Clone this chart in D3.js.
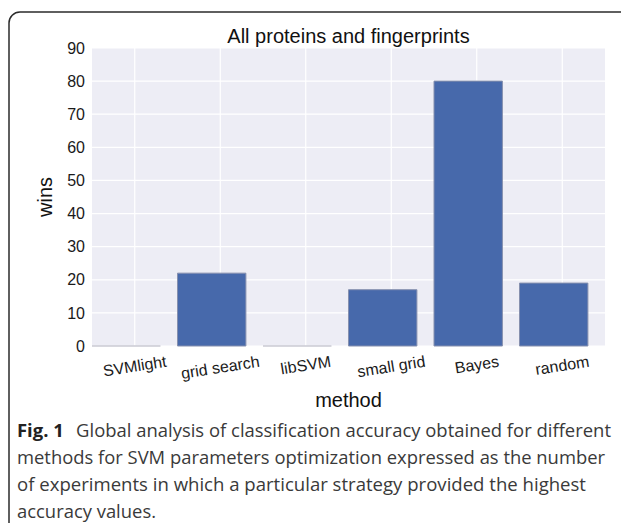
<!DOCTYPE html>
<html><head><meta charset="utf-8">
<script src="https://cdn.jsdelivr.net/npm/d3@7"></script>
<style>html,body{margin:0;padding:0;background:#fff;}svg{display:block;}</style>
</head><body>
<svg id="c" width="621" height="523"></svg>
<script>
const categories = ["SVMlight", "grid search", "libSVM", "small grid", "Bayes", "random"];
const wins = [0, 22, 0, 17, 80, 19];
const yTicks = [0, 10, 20, 30, 40, 50, 60, 70, 80, 90];
const titleText = "All proteins and fingerprints";
const xLabel = "method";
const yLabel = "wins";
const captionBold = "Fig. 1";
const captionLines = [
  "Global analysis of classification accuracy obtained for different",
  "methods for SVM parameters optimization expressed as the number",
  "of experiments in which a particular strategy provided the highest",
  "accuracy values."
];

const svg = d3.select("#c");
const M = {left: 92, right: 605, top: 48, bottom: 346};
const x = d3.scaleBand().domain(categories).range([M.left, M.right]).padding(0);
const y = d3.scaleLinear().domain([0, 90]).range([M.bottom, M.top]);
const font = "Arial, 'Liberation Sans', sans-serif";

// frame
svg.append("path")
  .attr("d", "M9,523 V23 A11,11 0 0 1 20,12 H621")
  .attr("fill", "none").attr("stroke", "#2b2b2b").attr("stroke-width", 1.5);

// plot bg
svg.append("rect").attr("x", M.left).attr("y", M.top)
  .attr("width", M.right - M.left).attr("height", M.bottom - M.top)
  .attr("fill", "#EDEDF5");

// grid
const g = svg.append("g");
g.selectAll("line.h").data(yTicks).join("line")
  .attr("x1", M.left).attr("x2", M.right)
  .attr("y1", d => y(d)).attr("y2", d => y(d))
  .attr("stroke", "#fff").attr("stroke-width", 1.2);
g.selectAll("line.v").data(categories).join("line")
  .attr("y1", M.top).attr("y2", M.bottom)
  .attr("x1", d => x(d) + x.bandwidth() / 2).attr("x2", d => x(d) + x.bandwidth() / 2)
  .attr("stroke", "#fff").attr("stroke-width", 1.2);

// bars (paths so that zero-height bars still show their edge)
const bw = x.bandwidth() * 0.8;
svg.append("g").selectAll("path").data(categories).join("path")
  .attr("d", (d, i) => {
    const x0 = x(d), y0 = y(0), y1 = y(wins[i]);
    return `M${x0},${y0}V${y1}H${x0 + bw}V${y0}Z`;
  })
  .attr("fill", "#4769AB")
  .attr("stroke", (d, i) => wins[i] === 0 ? "#C9C9D3" : "#8690AE")
  .attr("stroke-width", 1);

// y axis
const yAxis = d3.axisLeft(y).tickValues(yTicks).tickSize(0).tickPadding(7);
const ya = svg.append("g").attr("transform", `translate(${M.left},0)`).call(yAxis);
ya.select(".domain").remove();
ya.selectAll("text").attr("font-family", font).attr("font-size", 16).attr("fill", "#1a1a1a");

// x axis with rotated labels
const xAxis = d3.axisBottom(x).tickSize(0).tickPadding(0);
const xa = svg.append("g").attr("transform", `translate(0,${M.bottom})`).call(xAxis);
xa.select(".domain").remove();
const ang = 9;
const rad = ang * Math.PI / 180;
xa.selectAll("text").attr("font-family", font).attr("font-size", 16).attr("fill", "#1a1a1a")
  .attr("dy", null).attr("y", null)
  .each(function () {
    const t = d3.select(this);
    const w = this.getComputedTextLength();
    const h = 16 * 0.9;
    const bh = w * Math.sin(rad) + h * Math.cos(rad);
    const cy = 8 + bh / 2;
    t.attr("text-anchor", "middle").attr("dominant-baseline", "central")
      .attr("transform", `translate(0,${cy}) rotate(${-ang})`);
  });

// title and axis labels
svg.append("text").attr("x", (M.left + M.right) / 2).attr("y", 43)
  .attr("text-anchor", "middle").attr("font-family", font).attr("font-size", 20)
  .attr("fill", "#111").text(titleText);
svg.append("text").attr("x", (M.left + M.right) / 2).attr("y", 407)
  .attr("text-anchor", "middle").attr("font-family", font).attr("font-size", 20)
  .attr("fill", "#111").text(xLabel);
svg.append("text").attr("transform", `translate(52,${(M.top + M.bottom) / 2}) rotate(-90)`)
  .attr("text-anchor", "middle").attr("font-family", font).attr("font-size", 20)
  .attr("fill", "#111").text(yLabel);

// caption
const capFont = "'Open Sans', 'Noto Sans', sans-serif";
const capX = 17;
const capY = [437, 464, 491, 518];
const capW = [594, 588, 569, 139];
captionLines.forEach((line, i) => {
  const t = svg.append("text").attr("x", capX).attr("y", capY[i])
    .attr("font-family", capFont).attr("font-size", 18).attr("fill", "#3a3a3a")
    .attr("textLength", capW[i]).attr("lengthAdjust", "spacingAndGlyphs");
  if (i === 0) {
    t.append("tspan").attr("font-weight", "bold").attr("fill", "#222").text(captionBold);
    t.append("tspan").attr("dx", 12).text(line);
  } else {
    t.text(line);
  }
});
</script>
</body></html>
